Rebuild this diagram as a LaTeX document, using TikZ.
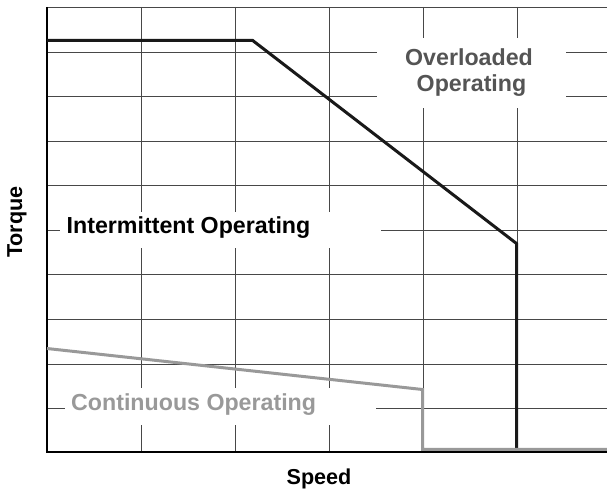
\documentclass[tikz,border=0pt]{standalone}
\usepackage{fontspec}
\setmainfont{Liberation Sans}
\begin{document}
\begin{tikzpicture}[x=1pt,y=-1pt,
  gridline/.style={draw=black!72,line width=0.9pt},
  mask/.style={fill=white,draw=none},
  region/.style={font=\bfseries\fontsize{23.2}{26}\selectfont,inner sep=0pt},
  axislabel/.style={font=\bfseries\fontsize{21.6}{24}\selectfont,inner sep=0pt},
  peakcurve/.style={line width=3pt,draw=black!90,line join=miter},
  ratedcurve/.style={line width=3pt,draw=black!40,line join=miter}]
\useasboundingbox (0,0) rectangle (607,492);

% grid
\foreach \x in {141,235,329,423,517}
  \draw[gridline] (\x,7) -- (\x,452);
\foreach \y in {7,52,96,141,185,230,274,319,364,408}
  \draw[gridline] (47,\y) -- (607,\y);

% blank areas behind the region labels
\fill[mask] (60,212) rectangle (381,248);
\fill[mask] (377,38) rectangle (566,108);
\fill[mask] (65,388) rectangle (376,425);

% axes
\coordinate (top) at (47,7);
\coordinate (origin) at (47,452);
\coordinate (xend) at (607,452);
\draw[black,line width=1.5pt] (top) -- (origin) -- (xend);

% peak torque limit
\coordinate (p0) at (47,40.5);
\coordinate (p1) at (252.7,40.5);
\coordinate (p2) at (516.5,243.5);
\coordinate (p3) at (516.5,449);
\draw[peakcurve] (p0) -- (p1) -- (p2) -- (p3);

% continuous torque limit
\coordinate (c0) at (47,348.5);
\coordinate (c1) at (422.5,389.5);
\coordinate (c2) at (422.5,449.3);
\coordinate (c3) at (607,449.3);
\draw[ratedcurve] (c0) -- (c1) -- (c2) -- (c3);

% region labels
\node[region,anchor=base west,text=black] (inter) at (66.5,233.3) {Intermittent Operating};
\node[region,anchor=base,text=black!67] (over1) at (469,66) {Overloaded};
\node[region,anchor=base,text=black!67] (over2) at (471.5,91.7) {Operating};
\node[region,anchor=base west,text=black!40] (cont) at (71,410.5) {Continuous Operating};

% axis labels
\node[axislabel,rotate=90] (ylab) at (17,222) {Torque};
\node[axislabel,anchor=base] (xlab) at (319,484) {Speed};
\end{tikzpicture}
\end{document}
